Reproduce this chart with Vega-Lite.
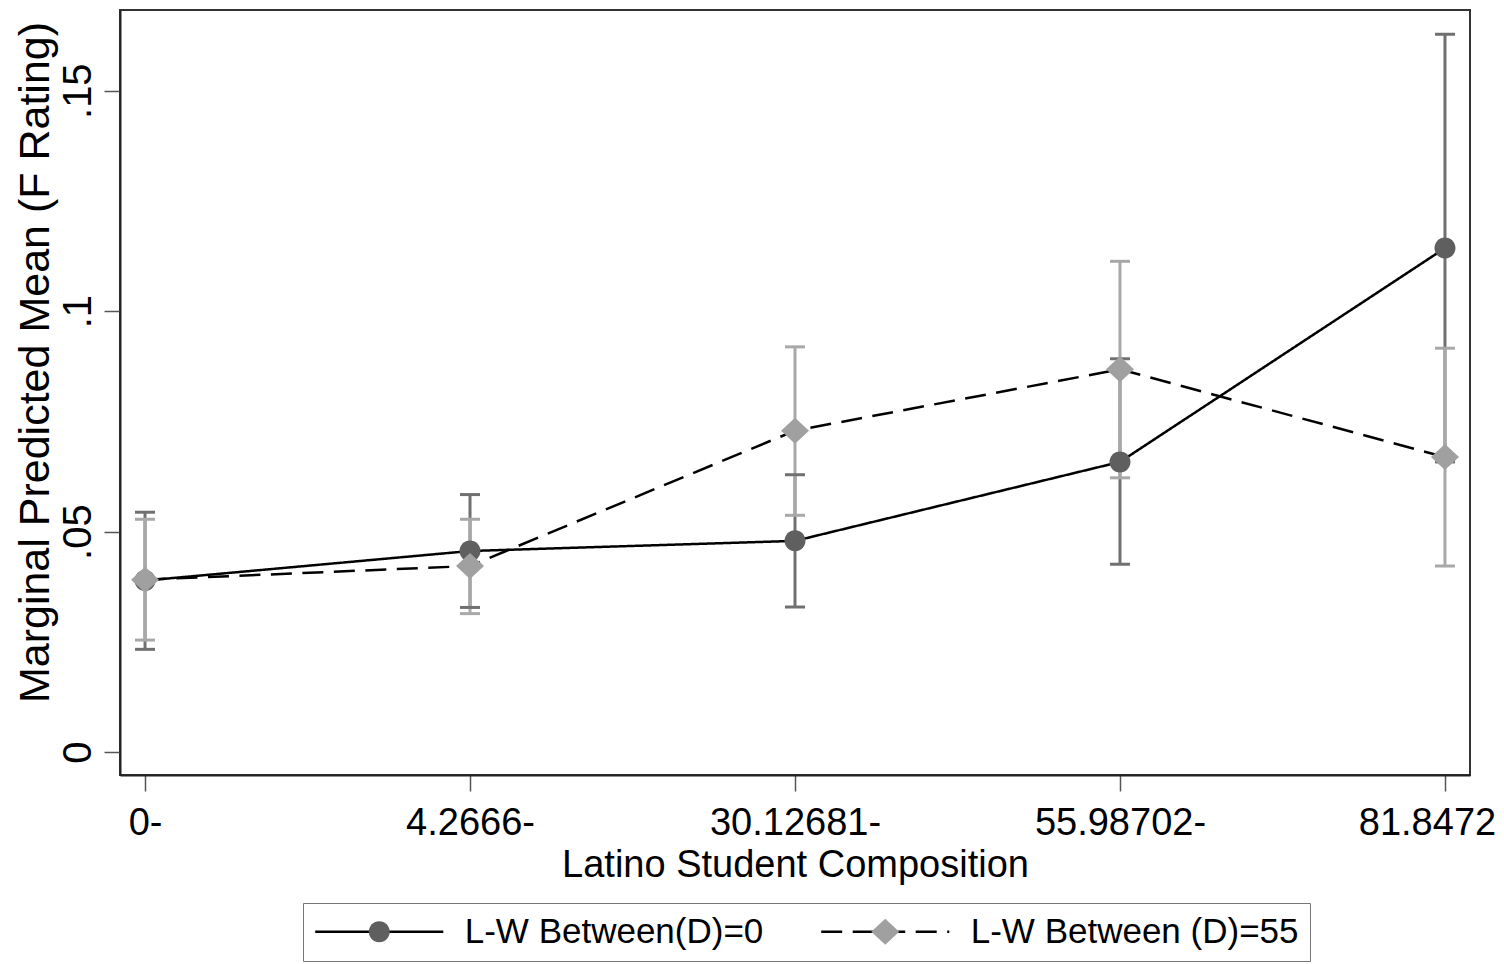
{
  "$schema": "https://vega.github.io/schema/vega-lite/v6.json",
  "width": 1350,
  "height": 765,
  "autosize": {"type": "none"},
  "padding": {"left": 120, "top": 10, "right": 34, "bottom": 189},
  "background": "white",
  "data": {
    "values": [
      {"comp": "0-", "series": "0", "mean": 0.0389, "lo": 0.0233, "hi": 0.0544},
      {"comp": "4.2666-", "series": "0", "mean": 0.0456, "lo": 0.0328, "hi": 0.0584},
      {"comp": "30.12681-", "series": "0", "mean": 0.0479, "lo": 0.0329, "hi": 0.0629},
      {"comp": "55.98702-", "series": "0", "mean": 0.0658, "lo": 0.0426, "hi": 0.0892},
      {"comp": "81.8472", "series": "0", "mean": 0.1143, "lo": 0.0658, "hi": 0.1628},
      {"comp": "0-", "series": "55", "mean": 0.0391, "lo": 0.0254, "hi": 0.0528},
      {"comp": "4.2666-", "series": "55", "mean": 0.0422, "lo": 0.0314, "hi": 0.0528},
      {"comp": "30.12681-", "series": "55", "mean": 0.0729, "lo": 0.0537, "hi": 0.0919},
      {"comp": "55.98702-", "series": "55", "mean": 0.0868, "lo": 0.0622, "hi": 0.1113},
      {"comp": "81.8472", "series": "55", "mean": 0.0669, "lo": 0.0422, "hi": 0.0916}
    ]
  },
  "encoding": {
    "x": {
      "field": "comp",
      "type": "nominal",
      "sort": ["0-", "4.2666-", "30.12681-", "55.98702-", "81.8472"],
      "scale": {"type": "point", "padding": 0.077},
      "title": "Latino Student Composition",
      "axis": {
        "labelOffset": {"condition": {"test": "datum.label == '81.8472'", "value": -18}, "value": 0}
      }
    }
  },
  "layer": [
    {
      "mark": {"type": "rule", "strokeWidth": 3},
      "encoding": {
        "y": {"field": "lo", "type": "quantitative", "title": "Marginal Predicted Mean (F Rating)",
          "scale": {"domain": [-0.0052, 0.1683], "nice": false, "zero": false},
          "axis": {"values": [0, 0.05, 0.1, 0.15], "labelExpr": "datum.value == 0 ? '0' : replace(format(datum.value, '.2~f'), '0.', '.')"}},
        "y2": {"field": "hi"},
        "color": {"field": "series", "type": "nominal", "sort": "descending", "scale": {"range": ["#a8a8a8", "#707070"]}, "legend": null}
      }
    },
    {
      "mark": {"type": "tick", "orient": "horizontal", "size": 20, "thickness": 3, "opacity": 1},
      "encoding": {
        "y": {"field": "lo", "type": "quantitative", "title": "Marginal Predicted Mean (F Rating)",
          "scale": {"domain": [-0.0052, 0.1683], "nice": false, "zero": false},
          "axis": {"values": [0, 0.05, 0.1, 0.15], "labelExpr": "datum.value == 0 ? '0' : replace(format(datum.value, '.2~f'), '0.', '.')"}},
        "color": {"field": "series", "type": "nominal", "sort": "descending", "scale": {"range": ["#a8a8a8", "#707070"]}, "legend": null}
      }
    },
    {
      "mark": {"type": "tick", "orient": "horizontal", "size": 20, "thickness": 3, "opacity": 1},
      "encoding": {
        "y": {"field": "hi", "type": "quantitative", "title": "Marginal Predicted Mean (F Rating)",
          "scale": {"domain": [-0.0052, 0.1683], "nice": false, "zero": false},
          "axis": {"values": [0, 0.05, 0.1, 0.15], "labelExpr": "datum.value == 0 ? '0' : replace(format(datum.value, '.2~f'), '0.', '.')"}},
        "color": {"field": "series", "type": "nominal", "sort": "descending", "scale": {"range": ["#a8a8a8", "#707070"]}, "legend": null}
      }
    },
    {
      "mark": {"type": "line", "color": "black", "strokeWidth": 2.5},
      "encoding": {
        "y": {"field": "mean", "type": "quantitative", "title": "Marginal Predicted Mean (F Rating)",
          "scale": {"domain": [-0.0052, 0.1683], "nice": false, "zero": false},
          "axis": {"values": [0, 0.05, 0.1, 0.15], "labelExpr": "datum.value == 0 ? '0' : replace(format(datum.value, '.2~f'), '0.', '.')"}},
        "strokeDash": {
          "field": "series", "type": "nominal",
          "scale": {"range": [[1, 0], [21, 10.5]]},
          "legend": {
            "orient": "none", "legendX": 183, "legendY": 893,
            "direction": "horizontal", "columns": 2, "title": null,
            "padding": 11, "columnPadding": 52,
            "symbolType": "M-6.1,0H6.1", "symbolSize": 441,
            "symbolStrokeColor": "black", "symbolStrokeWidth": 2.5,
            "symbolOffset": 47.75, "labelOffset": 68,
            "labelFont": "Liberation Sans", "labelFontSize": 35, "labelColor": "black",
            "labelBaseline": "middle", "labelLimit": 0,
            "labelExpr": "datum.value == '0' ? 'L-W Between(D)=0' : 'L-W Between (D)=55'",
            "strokeColor": "#777777"
          }
        }
      }
    },
    {
      "mark": {"type": "point", "filled": true, "size": 441, "opacity": 1, "strokeWidth": 0},
      "encoding": {
        "y": {"field": "mean", "type": "quantitative", "title": "Marginal Predicted Mean (F Rating)",
          "scale": {"domain": [-0.0052, 0.1683], "nice": false, "zero": false},
          "axis": {"values": [0, 0.05, 0.1, 0.15], "labelExpr": "datum.value == 0 ? '0' : replace(format(datum.value, '.2~f'), '0.', '.')"}},
        "shape": {
          "field": "series", "type": "nominal",
          "scale": {"domain": ["0", "55"], "range": ["M-6.214,0M6.214,0M-1,0A1,1 0 1,1 1,0A1,1 0 1,1 -1,0Z", "M-6.214,0M6.214,0M-1.333,0L0,-1.238L1.333,0L0,1.238Z"]},
          "legend": {
            "orient": "none", "legendX": 183, "legendY": 893,
            "direction": "horizontal", "columns": 2, "title": null,
            "padding": 11, "columnPadding": 355,
            "symbolSize": 441, "symbolStrokeWidth": 0, "symbolOpacity": 1,
            "symbolOffset": 47.75, "labelOffset": 68,
            "labelFont": "Liberation Sans", "labelFontSize": 35,
            "labelBaseline": "middle", "labelLimit": 0,
            "labelExpr": "''"
          }
        },
        "fill": {
          "field": "series", "type": "nominal",
          "scale": {"domain": ["0", "55"], "range": ["#5f5f5f", "#a0a0a0"]},
          "legend": {
            "orient": "none", "legendX": 183, "legendY": 893,
            "direction": "horizontal", "columns": 2, "title": null,
            "padding": 11, "columnPadding": 355,
            "symbolSize": 441, "symbolStrokeWidth": 0, "symbolOpacity": 1,
            "symbolOffset": 47.75, "labelOffset": 68,
            "labelFont": "Liberation Sans", "labelFontSize": 35,
            "labelBaseline": "middle", "labelLimit": 0,
            "labelExpr": "''"
          }
        }
      }
    }
  ],
  "config": {
    "font": "Liberation Sans",
    "view": {"stroke": "#333333", "strokeWidth": 2},
    "axis": {"grid": false, "domainColor": "#222222", "domainWidth": 2, "tickColor": "#555555", "tickWidth": 1.5, "tickSize": 16, "labelColor": "black", "titleColor": "black", "titleFontWeight": "normal", "labelFont": "Liberation Sans", "titleFont": "Liberation Sans"},
    "axisX": {"labelFontSize": 38, "labelAngle": 0, "labelBaseline": "alphabetic", "labelPadding": 43, "titleFontSize": 38, "titleBaseline": "alphabetic", "titleY": 101},
    "axisY": {"labelFontSize": 40, "labelAngle": 270, "labelAlign": "center", "labelBaseline": "alphabetic", "labelPadding": 14, "titleFontSize": 43, "titleAngle": 270, "titleAlign": "center", "titleBaseline": "alphabetic", "titleX": -72, "titleY": 352}
  }
}
